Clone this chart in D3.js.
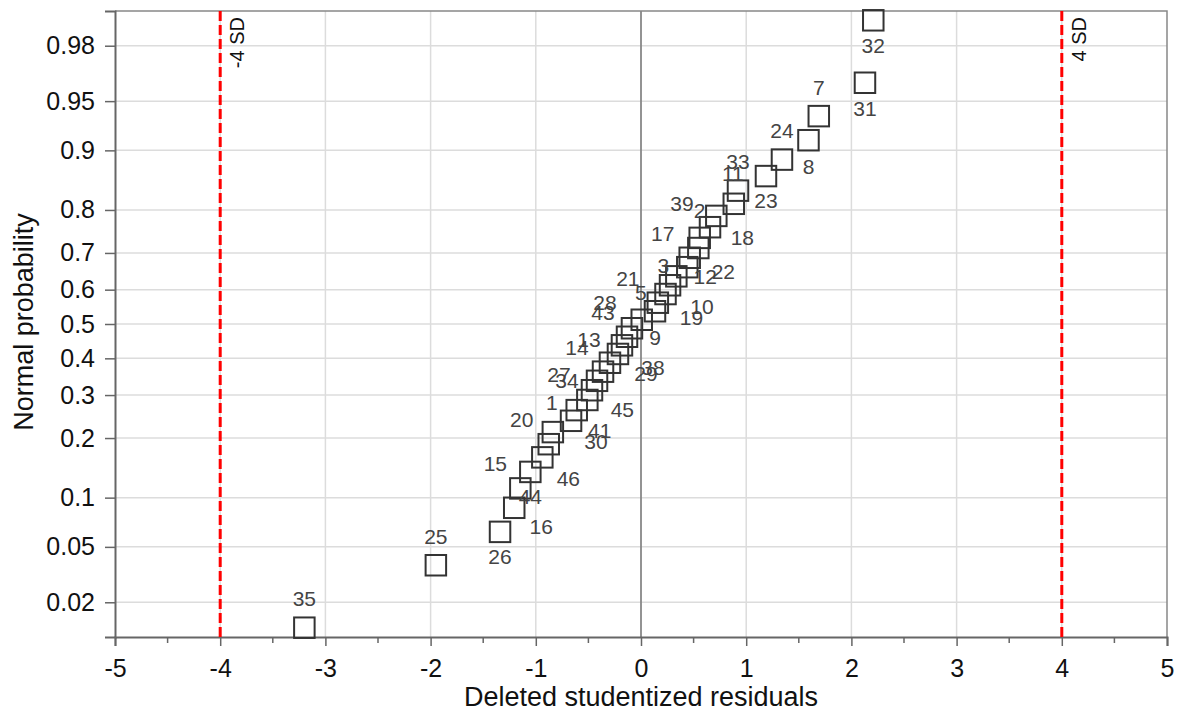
<!DOCTYPE html>
<html>
<head>
<meta charset="utf-8">
<script src="https://cdn.jsdelivr.net/npm/d3@7"></script>
<style>
  body { margin: 0; background: #fff; }
  text { font-family: "Liberation Sans", Arial, sans-serif; }
</style>
</head>
<body>
<div id="chart"></div>
<script>
// Run observations, in rank order (lowest residual first)
var runLabels = [35, 25, 26, 16, 15, 44, 46, 20, 1, 30, 41, 45, 34, 27, 14, 13, 29, 38, 43, 28,
                 5, 9, 21, 19, 10, 3, 12, 17, 22, 2, 39, 18, 11, 33, 23, 24, 8, 7, 31, 32];

var residuals = [-3.20, -1.95, -1.34, -1.205, -1.147, -1.052, -0.938, -0.877, -0.838, -0.665,
                 -0.611, -0.51, -0.466, -0.418, -0.361, -0.295, -0.219, -0.181, -0.133, -0.086,
                 0.007, 0.133, 0.16, 0.233, 0.276, 0.336, 0.44, 0.463, 0.545, 0.558,
                 0.656, 0.716, 0.882, 0.922, 1.188, 1.34, 1.592, 1.69, 2.129, 2.208];

var normalProb = [0.0125, 0.0375, 0.0625, 0.0875, 0.1125, 0.1375, 0.1625, 0.1875, 0.2125, 0.2375,
                  0.2625, 0.2875, 0.3125, 0.3375, 0.3625, 0.3875, 0.4125, 0.4375, 0.4625, 0.4875,
                  0.5125, 0.5375, 0.5625, 0.5875, 0.6125, 0.6375, 0.6625, 0.6875, 0.7125, 0.7375,
                  0.7625, 0.7875, 0.8125, 0.8375, 0.8625, 0.8875, 0.9125, 0.9375, 0.9625, 0.9875];

var probTicks = [0.02, 0.05, 0.1, 0.2, 0.3, 0.4, 0.5, 0.6, 0.7, 0.8, 0.9, 0.95, 0.98];
var xTicks = [-5, -4, -3, -2, -1, 0, 1, 2, 3, 4, 5];
var limitLines = [-4, 4];
var limitNames = ["-4 SD", "4 SD"];

// label placement around each box (px), same order as runLabels
var labelNudge = [[0,-29],[0,-29],[0,25],[27,19],[-25,-25],[0,25],[26,21],[-27,-25],[-1,-30],[25,21],
                  [23,20],[35,10],[-25,-10],[-38,-6],[-26,-24],[-21,-23],[28,20],[31,22],[-24,-24],[-27,-26],
                  [-1,-27],[0,26],[-30,-24],[26,23],[32,21],[-13,-11],[18,9],[-27,-24],[25,23],[0,-27],
                  [-28,-24],[26,22],[-1,-30],[0,-29],[0,24],[0,-29],[0,26],[0,-29],[0,26],[0,25]];

// inverse normal cdf (Acklam)
function probit(p) {
    var a = [-39.69683028665376, 220.9460984245205, -275.9285104469687, 138.3577518672690, -30.66479806614716, 2.506628277459239];
    var b = [-54.47609879822406, 161.5858368580409, -155.6989798598866, 66.80131188771972, -13.28068155288572];
    var c = [-0.007784894002430293, -0.3223964580411365, -2.400758277161838, -2.549732539343734, 4.374664141464968, 2.938163982698783];
    var d = [0.007784695709041462, 0.3224671290700398, 2.445134137142996, 3.754408661907416];
    var q, r;
    if (p < 0.02425) {
        q = Math.sqrt(-2 * Math.log(p));
        return (((((c[0]*q+c[1])*q+c[2])*q+c[3])*q+c[4])*q+c[5]) / ((((d[0]*q+d[1])*q+d[2])*q+d[3])*q+1);
    }
    if (p > 1 - 0.02425) {
        q = Math.sqrt(-2 * Math.log(1 - p));
        return -(((((c[0]*q+c[1])*q+c[2])*q+c[3])*q+c[4])*q+c[5]) / ((((d[0]*q+d[1])*q+d[2])*q+d[3])*q+1);
    }
    q = p - 0.5;
    r = q * q;
    return (((((a[0]*r+a[1])*r+a[2])*r+a[3])*r+a[4])*r+a[5])*q / (((((b[0]*r+b[1])*r+b[2])*r+b[3])*r+b[4])*r+1);
}

function drawChart() {
    var width = 1178, height = 711;
    var left = 115, right = 1167, top = 11, bottom = 637;

    var svg = d3.select("#chart").append("svg")
        .attr("width", width)
        .attr("height", height);

    var x = d3.scaleLinear().domain([-5, 5]).range([left, right]);
    var z = d3.scaleLinear().domain([-2.31, 2.31]).range([bottom, top]);
    var y = function(p) { return z(probit(p)); };

    //Grid lines
    svg.append("g").selectAll("line")
        .data(xTicks.slice(1, -1))
        .enter().append("line")
        .attr("x1", function(d) { return x(d); })
        .attr("x2", function(d) { return x(d); })
        .attr("y1", top).attr("y2", bottom)
        .style("stroke", "#dcdcdc").style("stroke-width", 1.5);

    svg.append("g").selectAll("line")
        .data(probTicks)
        .enter().append("line")
        .attr("x1", left).attr("x2", right)
        .attr("y1", function(d) { return y(d); })
        .attr("y2", function(d) { return y(d); })
        .style("stroke", "#dcdcdc").style("stroke-width", 1.5);

    //Zero line
    svg.append("line")
        .attr("x1", x(0)).attr("x2", x(0))
        .attr("y1", top).attr("y2", bottom)
        .style("stroke", "#777").style("stroke-width", 1.5);

    //Frame top / right
    svg.append("path")
        .attr("d", "M" + left + "," + top + "H" + right + "V" + bottom)
        .style("fill", "none").style("stroke", "#888").style("stroke-width", 1.5);

    //X axis
    var xAxis = d3.axisBottom(x).tickValues(xTicks).tickSize(9).tickPadding(13)
        .tickFormat(function(d) { return d; });
    var gx = svg.append("g").attr("transform", "translate(0," + bottom + ")").call(xAxis);
    gx.selectAll(".tick line").style("stroke", "#666").style("stroke-width", 1.5);
    gx.select(".domain").style("stroke", "#666").style("stroke-width", 2);
    gx.selectAll("text").style("font-size", "25px").style("fill", "#111")
        .style("font-family", "Liberation Sans, Arial, sans-serif");

    //minor ticks on x
    var minor = d3.range(-4.5, 5, 1);
    svg.append("g").selectAll("line")
        .data(minor)
        .enter().append("line")
        .attr("x1", function(d) { return x(d); })
        .attr("x2", function(d) { return x(d); })
        .attr("y1", bottom).attr("y2", bottom + 6)
        .style("stroke", "#666").style("stroke-width", 1.5);

    //Y axis
    var yAxis = d3.axisLeft(z).tickValues(probTicks.map(probit)).tickSize(10).tickPadding(10)
        .tickFormat(function(d, i) { return probTicks[i]; });
    var gy = svg.append("g").attr("transform", "translate(" + left + ",0)").call(yAxis);
    gy.selectAll(".tick line").style("stroke", "#666").style("stroke-width", 1.5);
    gy.select(".domain").style("stroke", "#666").style("stroke-width", 2);
    gy.selectAll("text").style("font-size", "25px").style("fill", "#111")
        .style("font-family", "Liberation Sans, Arial, sans-serif");

    //SD limit lines
    svg.append("g").selectAll("line")
        .data(limitLines)
        .enter().append("line")
        .attr("x1", function(d) { return x(d); })
        .attr("x2", function(d) { return x(d); })
        .attr("y1", top).attr("y2", bottom)
        .style("stroke", "#ff0000").style("stroke-width", 3)
        .style("stroke-dasharray", "10,4");

    svg.append("g").selectAll("text")
        .data(limitLines)
        .enter().append("text")
        .attr("transform", function(d) { return "translate(" + (x(d) + 24) + "," + (top + 6) + ") rotate(-90)"; })
        .attr("text-anchor", "end")
        .style("font-size", "20px")
        .style("fill", "#111")
        .text(function(d, i) { return limitNames[i]; });

    //Points as open squares
    var box = 20.5;
    svg.append("g").selectAll("rect")
        .data(residuals)
        .enter().append("rect")
        .attr("x", function(d) { return x(d) - box / 2; })
        .attr("y", function(d, i) { return y(normalProb[i]) - box / 2; })
        .attr("width", box).attr("height", box)
        .style("fill", "none")
        .style("stroke", "#333")
        .style("stroke-width", 2);

    svg.append("g").selectAll("text")
        .data(residuals)
        .enter().append("text")
        .attr("x", function(d, i) { return x(d) + labelNudge[i][0]; })
        .attr("y", function(d, i) { return y(normalProb[i]) + labelNudge[i][1]; })
        .attr("text-anchor", "middle")
        .attr("dominant-baseline", "central")
        .style("font-size", "21px")
        .style("fill", "#444")
        .text(function(d, i) { return runLabels[i]; });

    //Axis titles
    svg.append("text")
        .attr("x", (left + right) / 2).attr("y", 706)
        .attr("text-anchor", "middle")
        .style("font-size", "27px").style("fill", "#111")
        .text("Deleted studentized residuals");

    svg.append("text")
        .attr("transform", "translate(33," + ((top + bottom) / 2 - 2) + ") rotate(-90)")
        .attr("text-anchor", "middle")
        .style("font-size", "27px").style("fill", "#111")
        .text("Normal probability");
}

drawChart();
</script>
</body>
</html>
